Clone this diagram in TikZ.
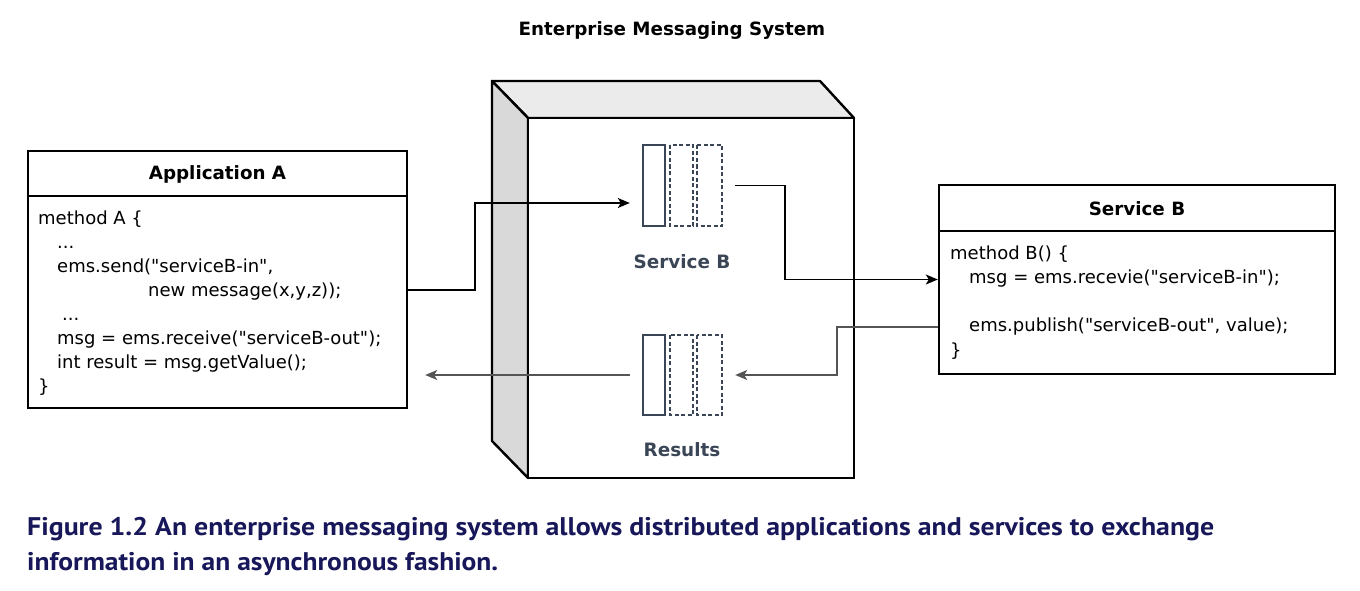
\documentclass[tikz,border=0pt]{standalone}
\usepackage{fontspec}
\setmainfont{DejaVu Sans}
\newfontfamily\capfont{PT Sans}
\font\codefnt="DejaVu Sans" at 18pt
\font\titlefnt="DejaVu Sans/B" at 18.3pt
\usetikzlibrary{arrows.meta}
\definecolor{qcol}{HTML}{3A4656}
\definecolor{capcol}{HTML}{17175A}
\definecolor{linegray}{HTML}{555555}
\tikzset{
  boxstyle/.style={draw=black, line width=2.4pt, fill=white, inner sep=0pt},
  code/.style={anchor=base west, inner sep=0pt, font=\codefnt},
  boxtitle/.style={inner sep=0pt, font=\titlefnt},
  qlabel/.style={inner sep=0pt, text=qcol, font=\fontsize{18.4}{20}\selectfont\bfseries},
  qsolid/.style={draw=qcol, line width=1.8pt},
  qdash/.style={draw=qcol, line width=1.8pt, dash pattern=on 4pt off 2.5pt},
  conn/.style={line width=1.4pt, -{Stealth[length=12pt,width=10pt,inset=3pt]}},
  capstyle/.style={anchor=base west, inner sep=0pt, text=capcol, font=\capfont\fontsize{25.5}{28}\selectfont\bfseries}
}
\begin{document}
\begin{tikzpicture}[x=1pt,y=-1pt]
\useasboundingbox[fill=white] (0,0) rectangle (1360,591);

% title
\node[boxtitle] (title) at (672,31) {Enterprise Messaging System};

% EMS 3D box
\filldraw[fill=black!8, draw=black, line width=2.4pt, line join=round] (492,81) -- (820,81) -- (854,118) -- (528,118) -- cycle;
\filldraw[fill=black!15, draw=black, line width=2.4pt, line join=round] (492,81) -- (528,118) -- (528,478) -- (492,441) -- cycle;
\node[boxstyle, minimum width=326pt, minimum height=360pt] (ems) at (691,298) {};

% queues
\node[inner sep=0pt, minimum width=79pt, minimum height=81pt] (qin) at (682.5,185.5) {};
\draw[qsolid] (643,145) rectangle (665,226);
\draw[qdash] (670,145) rectangle (693,226);
\draw[qdash] (697,145) rectangle (722,226);
\node[qlabel] (qinlabel) at (682,262) {Service B};

\node[inner sep=0pt, minimum width=79pt, minimum height=81pt] (qout) at (682.5,375) {};
\draw[qsolid] (643,335) rectangle (665,415);
\draw[qdash] (670,335) rectangle (693,415);
\draw[qdash] (697,335) rectangle (722,415);
\node[qlabel] (qoutlabel) at (682,450) {Results};

% Application A
\node[boxstyle, minimum width=379pt, minimum height=257pt] (appA) at (217.5,279.5) {};
\draw[line width=2.4pt] (appA.west |- 0,196) -- (appA.east |- 0,196);
\node[boxtitle] (appAtitle) at (217.5,174) {Application A};
\node[code] (a1) at (38,224) {method A \{};
\node[code] (a2) at (57,248) {...};
\node[code] (a3) at (57,272) {ems.send("serviceB-in",};
\node[code] (a4) at (148,296) {new message(x,y,z));};
\node[code] (a5) at (62,320) {...};
\node[code] (a6) at (57,344) {msg = ems.receive("serviceB-out");};
\node[code] (a7) at (57,368) {int result = msg.getValue();};
\node[code] (a8) at (38,392) {\}};

% Service B
\node[boxstyle, minimum width=396pt, minimum height=189pt] (svcB) at (1137,279.5) {};
\draw[line width=2.4pt] (svcB.west |- 0,231) -- (svcB.east |- 0,231);
\node[boxtitle] (svcBtitle) at (1137,209) {Service B};
\node[code] (b1) at (950,259) {method B() \{};
\node[code] (b2) at (969,283) {msg = ems.recevie("serviceB-in");};
\node[code] (b3) at (969,331) {ems.publish("serviceB-out", value);};
\node[code] (b4) at (950,356) {\}};

% connectors
\draw[conn] ([yshift=-10.5pt]appA.east) -| (475,203) -- (qin.west |- 475,203) [shorten >=13pt];
\draw[conn] ([xshift=13pt]qin.east) -- (785,185.5) |- (svcB.west);
\draw[conn, draw=linegray] ([yshift=-47.5pt]svcB.west) -| (837,375) -- ([xshift=13pt]qout.east);
\draw[conn, draw=linegray, shorten >=17pt] ([xshift=-13pt]qout.west) -- (appA.east |- qout.west);

% caption
\node[capstyle] (cap1) at (27,535) {\resizebox{1187pt}{\height}{Figure 1.2 An enterprise messaging system allows distributed applications and services to exchange}};
\node[capstyle] (cap2) at (27,570) {\resizebox{471pt}{\height}{information in an asynchronous fashion.}};
\end{tikzpicture}
\end{document}
